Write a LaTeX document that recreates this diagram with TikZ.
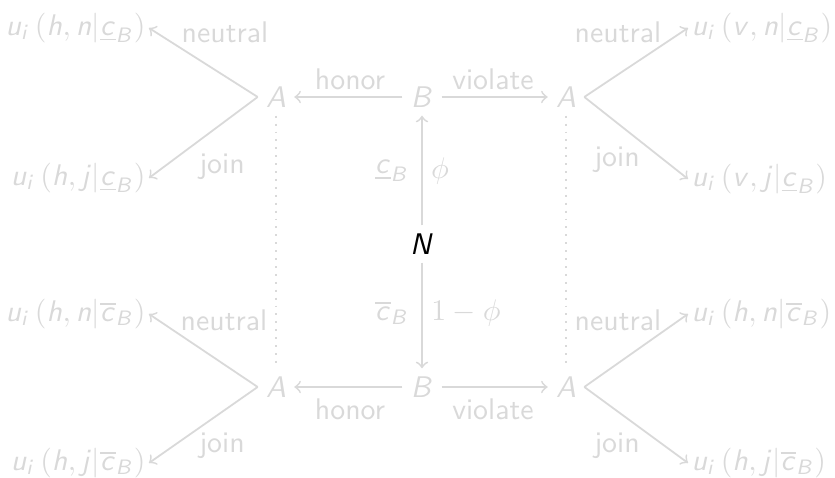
\documentclass[tikz,border=0pt]{standalone}
\DeclareMathAlphabet{\mathsfit}{OT1}{cmss}{m}{sl}
\definecolor{lg}{gray}{0.85}
\newcommand\uleaf[3]{$\mathsfit{u_i\left(#1,#2|#3\right)}$}
\newcommand\cu{\underline{\mathsfit{c}}_{\mathsfit{B}}}
\newcommand\co{\overline{\mathsfit{c}}_{\mathsfit{B}}}
\begin{document}
\begin{tikzpicture}[x=0.335pt,y=-0.335pt,
  every node/.style={text=lg, font=\sffamily},
  pt/.style={inner sep=2.6pt},
  arr/.style={draw=lg, line width=0.6pt, ->},
  dots/.style={draw=lg, line width=0.65pt, dotted},
  leafL/.style={anchor=east, inner sep=1pt},
  leafR/.style={anchor=west, inner sep=1pt},
  lbl/.style={inner sep=0pt}]
\useasboundingbox (0,0) rectangle (835,478);
% decision nodes
\node[pt,text=black] (N) at (422,244) {$\mathsfit{N}$};
\node[pt] (Bt) at (422,97) {$\mathsfit{B}$};
\node[pt] (Bb) at (422,387) {$\mathsfit{B}$};
\node[pt] (Alt) at (276,97) {$\mathsfit{A}$};
\node[pt] (Art) at (566,97) {$\mathsfit{A}$};
\node[pt] (Alb) at (276,387) {$\mathsfit{A}$};
\node[pt] (Arb) at (566,387) {$\mathsfit{A}$};
% leaves
\node[leafL] (L1) at (149,28) {\uleaf{h}{n}{\cu}};
\node[leafL] (L2) at (149,178) {\uleaf{h}{j}{\cu}};
\node[leafR] (R1) at (688,28) {\uleaf{v}{n}{\cu}};
\node[leafR] (R2) at (688,179) {\uleaf{v}{j}{\cu}};
\node[leafL] (L3) at (149,314) {\uleaf{h}{n}{\co}};
\node[leafL] (L4) at (149,463) {\uleaf{h}{j}{\co}};
\node[leafR] (R3) at (688,314) {\uleaf{h}{n}{\co}};
\node[leafR] (R4) at (688,463) {\uleaf{h}{j}{\co}};
% connectors
\draw[arr] (N) -- (Bt);
\draw[arr] (N) -- (Bb);
\draw[arr] (Bt) -- (Alt);
\draw[arr] (Bt) -- (Art);
\draw[arr] (Bb) -- (Alb);
\draw[arr] (Bb) -- (Arb);
\draw[arr] (Alt.west) -- (L1.east);
\draw[arr] (Alt.west) -- (L2.east);
\draw[arr] (Art.east) -- (R1.west);
\draw[arr] (Art.east) -- (R2.west);
\draw[arr] (Alb.west) -- (L3.east);
\draw[arr] (Alb.west) -- (L4.east);
\draw[arr] (Arb.east) -- (R3.west);
\draw[arr] (Arb.east) -- (R4.west);
\draw[dots] (Alt) -- (Alb);
\draw[dots] (Art) -- (Arb);
% labels
\node[lbl] (tn1) at (225,32) {neutral};
\node[lbl] (tj1) at (222,167) {join};
\node[lbl] (tn2) at (618,32) {neutral};
\node[lbl] (tj2) at (617,160) {join};
\node[lbl] (tn3) at (224,320) {neutral};
\node[lbl] (tj3) at (222,446) {join};
\node[lbl] (tn4) at (618,320) {neutral};
\node[lbl] (tj4) at (617,446) {join};
\node[lbl] (th1) at (350,79) {honor};
\node[lbl] (tv1) at (493,79) {violate};
\node[lbl] (th2) at (350,409) {honor};
\node[lbl] (tv2) at (493,409) {violate};
\node[lbl] (pc1) at (392,171) {$\cu$};
\node[lbl] (pp1) at (440,171) {$\phi$};
\node[lbl] (pc2) at (392,313) {$\co$};
\node[lbl] (pp2) at (466,313) {$1-\phi$};
\end{tikzpicture}
\end{document}
